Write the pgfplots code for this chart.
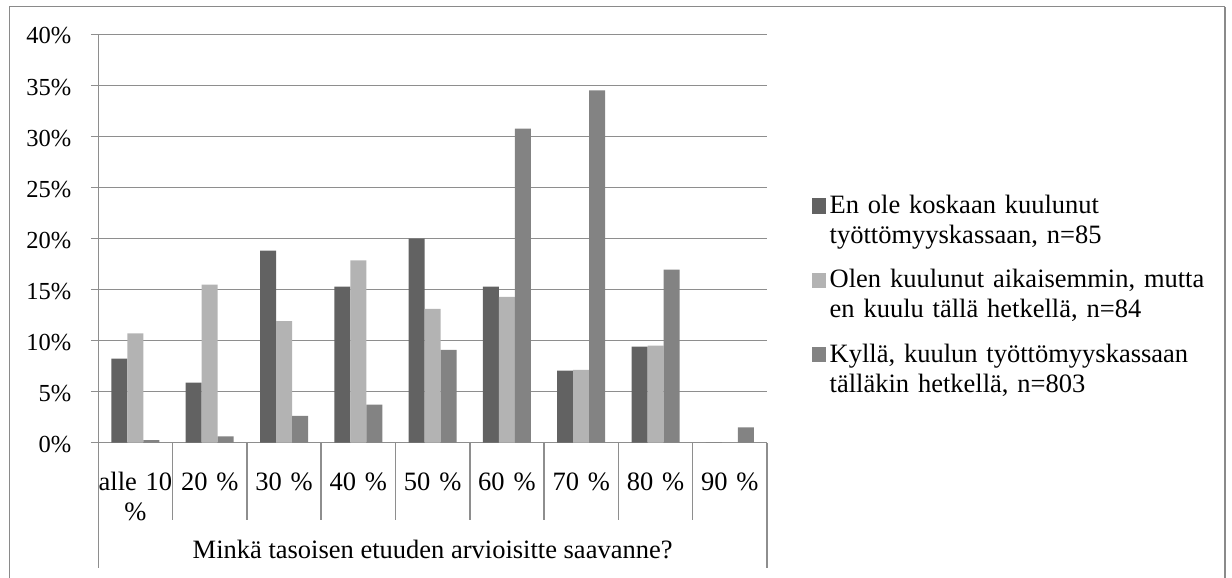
\documentclass[border=0pt]{standalone}
\usepackage{pgfplots}
\pgfplotsset{compat=1.18}
\usepackage{fontspec}
\setmainfont{Liberation Serif}
\definecolor{cdark}{HTML}{626262}
\definecolor{clight}{HTML}{B3B3B3}
\definecolor{cmed}{HTML}{838383}
\definecolor{cgrid}{HTML}{8E8E8E}
\definecolor{cframe}{HTML}{8A8A8A}
\newcommand{\lf}{\fontsize{13.25bp}{15bp}\selectfont}
\newcommand{\tf}{\fontsize{12.25bp}{15bp}\selectfont}
\pgfplotsset{
  sq legend/.style={legend image code/.code={\fill[##1] (0bp,0bp) rectangle (7bp,7.6bp);}},
}
\tikzset{lentry/.style={text width=200bp, align=left, text height=10bp, text depth=27.1bp, inner sep=0pt, anchor=base west}}
\begin{document}
\begin{tikzpicture}
\draw[cframe, line width=0.5bp] (4.5bp,-5bp) -- (4.5bp,285.65bp) -- (612.5bp,285.65bp);
\draw[cframe, line width=1bp] (612.5bp,285.65bp) -- (612.5bp,-5bp);
\begin{axis}[
  at={(49.15bp,67.65bp)}, anchor=south west,
  scale only axis, width=334.35bp, height=204.2bp,
  ybar=0pt, bar width=8bp,
  xmin=-0.5, xmax=8.5, ymin=0, ymax=40,
  axis x line*=bottom, axis y line*=left,
  axis line style={cgrid, line width=0.75bp},
  ymajorgrids, grid style={cgrid, line width=0.75bp},
  ytick={0,5,...,40},
  yticklabels={0\%,5\%,10\%,15\%,20\%,25\%,30\%,35\%,40\%},
  tick align=outside, major tick length=3.75bp,
  ytick style={cgrid, line width=0.75bp},
  xtick style={draw=none},
  xtick={0,...,8},
  xticklabels={{alle 10\\\%},{20 \%},{30 \%},{40 \%},{50 \%},{60 \%},{70 \%},{80 \%},{90 \%}},
  xticklabel style={font=\lf, text width=37bp, align=center, anchor=base, inner sep=0pt, yshift=-20.3bp},
  yticklabel style={font=\tf, anchor=east, inner sep=0pt, xshift=-9.55bp, yshift=-0.85bp},
  xlabel={Minkä tasoisen etuuden arvioisitte saavanne?},
  xlabel style={font=\lf, at={(axis description cs:0.5,0)}, anchor=base, yshift=-57.65bp, inner sep=0pt},
  clip=false,
  legend style={at={(1.0663,0.6107)}, anchor=north west, draw=none, fill=none, inner sep=0pt, row sep=0pt, column sep=2bp, font=\lf},
  legend cell align=left,
]
\addplot[fill=cdark, draw=none, sq legend]
  coordinates {(0,8.24) (1,5.88) (2,18.82) (3,15.29) (4,20.0) (5,15.29) (6,7.06) (7,9.41) (8,0)};
\addlegendentry[lentry]{En ole koskaan kuulunut\\työttömyyskassaan, n=85}
\addplot[fill=clight, draw=none, sq legend]
  coordinates {(0,10.71) (1,15.48) (2,11.90) (3,17.86) (4,13.10) (5,14.29) (6,7.14) (7,9.52) (8,0)};
\addlegendentry[lentry]{Olen kuulunut aikaisemmin, mutta\\en kuulu tällä hetkellä, n=84}
\addplot[fill=cmed, draw=none, sq legend]
  coordinates {(0,0.25) (1,0.62) (2,2.62) (3,3.74) (4,9.09) (5,30.76) (6,34.50) (7,16.94) (8,1.49)};
\addlegendentry[lentry]{Kyllä, kuulun työttömyyskassaan\\tälläkin hetkellä, n=803}
\draw[cgrid, line width=0.75bp] (axis cs:-0.5,0) -- ++(0pt,-62.65bp);
\draw[cgrid, line width=0.75bp] (axis cs:8.5,0) -- ++(0pt,-62.65bp);
\draw[cgrid, line width=0.75bp] (axis cs:0.5,0) -- ++(0pt,-38.65bp);
\draw[cgrid, line width=0.75bp] (axis cs:1.5,0) -- ++(0pt,-38.65bp);
\draw[cgrid, line width=0.75bp] (axis cs:2.5,0) -- ++(0pt,-38.65bp);
\draw[cgrid, line width=0.75bp] (axis cs:3.5,0) -- ++(0pt,-38.65bp);
\draw[cgrid, line width=0.75bp] (axis cs:4.5,0) -- ++(0pt,-38.65bp);
\draw[cgrid, line width=0.75bp] (axis cs:5.5,0) -- ++(0pt,-38.65bp);
\draw[cgrid, line width=0.75bp] (axis cs:6.5,0) -- ++(0pt,-38.65bp);
\draw[cgrid, line width=0.75bp] (axis cs:7.5,0) -- ++(0pt,-38.65bp);
\end{axis}
\pgfresetboundingbox
\useasboundingbox (0,0) rectangle (616bp,289bp);
\end{tikzpicture}
\end{document}
